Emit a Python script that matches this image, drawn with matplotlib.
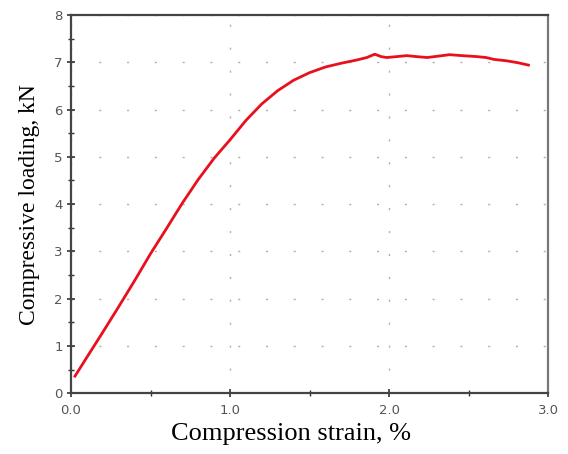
import numpy as np
import matplotlib.pyplot as plt
from matplotlib.ticker import MultipleLocator

# values
strain = [0.025, 0.10, 0.20, 0.30, 0.40, 0.50, 0.60, 0.70, 0.80, 0.90, 1.00,
          1.10, 1.20, 1.30, 1.40, 1.50, 1.60, 1.70, 1.80, 1.86, 1.91, 1.95,
          1.985, 2.05, 2.11, 2.17, 2.24, 2.31, 2.38, 2.46, 2.55, 2.61, 2.66,
          2.74, 2.81, 2.876]
load = [0.36, 0.76, 1.29, 1.83, 2.38, 2.95, 3.48, 4.02, 4.52, 4.97, 5.36,
        5.77, 6.12, 6.40, 6.62, 6.78, 6.90, 6.98, 7.05, 7.10, 7.17, 7.12,
        7.10, 7.12, 7.14, 7.12, 7.10, 7.13, 7.16, 7.14, 7.12, 7.10, 7.06,
        7.03, 6.99, 6.94]
xticks = [0.0, 1.0, 2.0, 3.0]
xticklabels = ['0.0', '1.0', '2.0', '3.0']
yticks = [0, 1, 2, 3, 4, 5, 6, 7, 8]

fig = plt.figure(figsize=(5.68, 4.54), dpi=100)
ax = fig.add_axes([0.125, 0.134, 0.84, 0.833])

ax.plot(strain, load, color='#e8101c', linewidth=2.0, zorder=3)

ax.set_xlim(0, 3)
ax.set_ylim(0, 8)
ax.set_xticks(xticks)
ax.set_xticklabels(xticklabels)
ax.set_yticks(yticks)
ax.xaxis.set_minor_locator(MultipleLocator(0.5))
ax.yaxis.set_minor_locator(MultipleLocator(0.5))

ax.tick_params(which='major', direction='inout', length=6, width=1.2, color='#333333',
               labelsize=9.5, labelcolor='#555555', top=False, right=False)
ax.tick_params(which='minor', direction='inout', length=4, width=1.0, color='#333333',
               top=False, right=False)
ax.tick_params(axis='x', pad=5)
ax.tick_params(axis='y', pad=3)

ax.grid(axis='y', which='major', color='#b0b0b0', linewidth=1.0, linestyle=(0, (1.5, 18.5)))
ax.grid(axis='x', which='major', color='#b0b0b0', linewidth=1.0, linestyle=(0, (1.5, 15)))

for side in ['left', 'bottom', 'top']:
    ax.spines[side].set_color('#444444')
    ax.spines[side].set_linewidth(1.6)
ax.spines['right'].set_color('#777777')
ax.spines['right'].set_linewidth(1.6)

ax.set_xlabel('Compression strain, %', fontsize=19, family='Liberation Serif')
ax.xaxis.set_label_coords(0.461, -0.08)
ax.set_ylabel('Compressive loading, kN', fontsize=17, family='Liberation Serif', labelpad=10)

fig.savefig('out.png', dpi=100)
